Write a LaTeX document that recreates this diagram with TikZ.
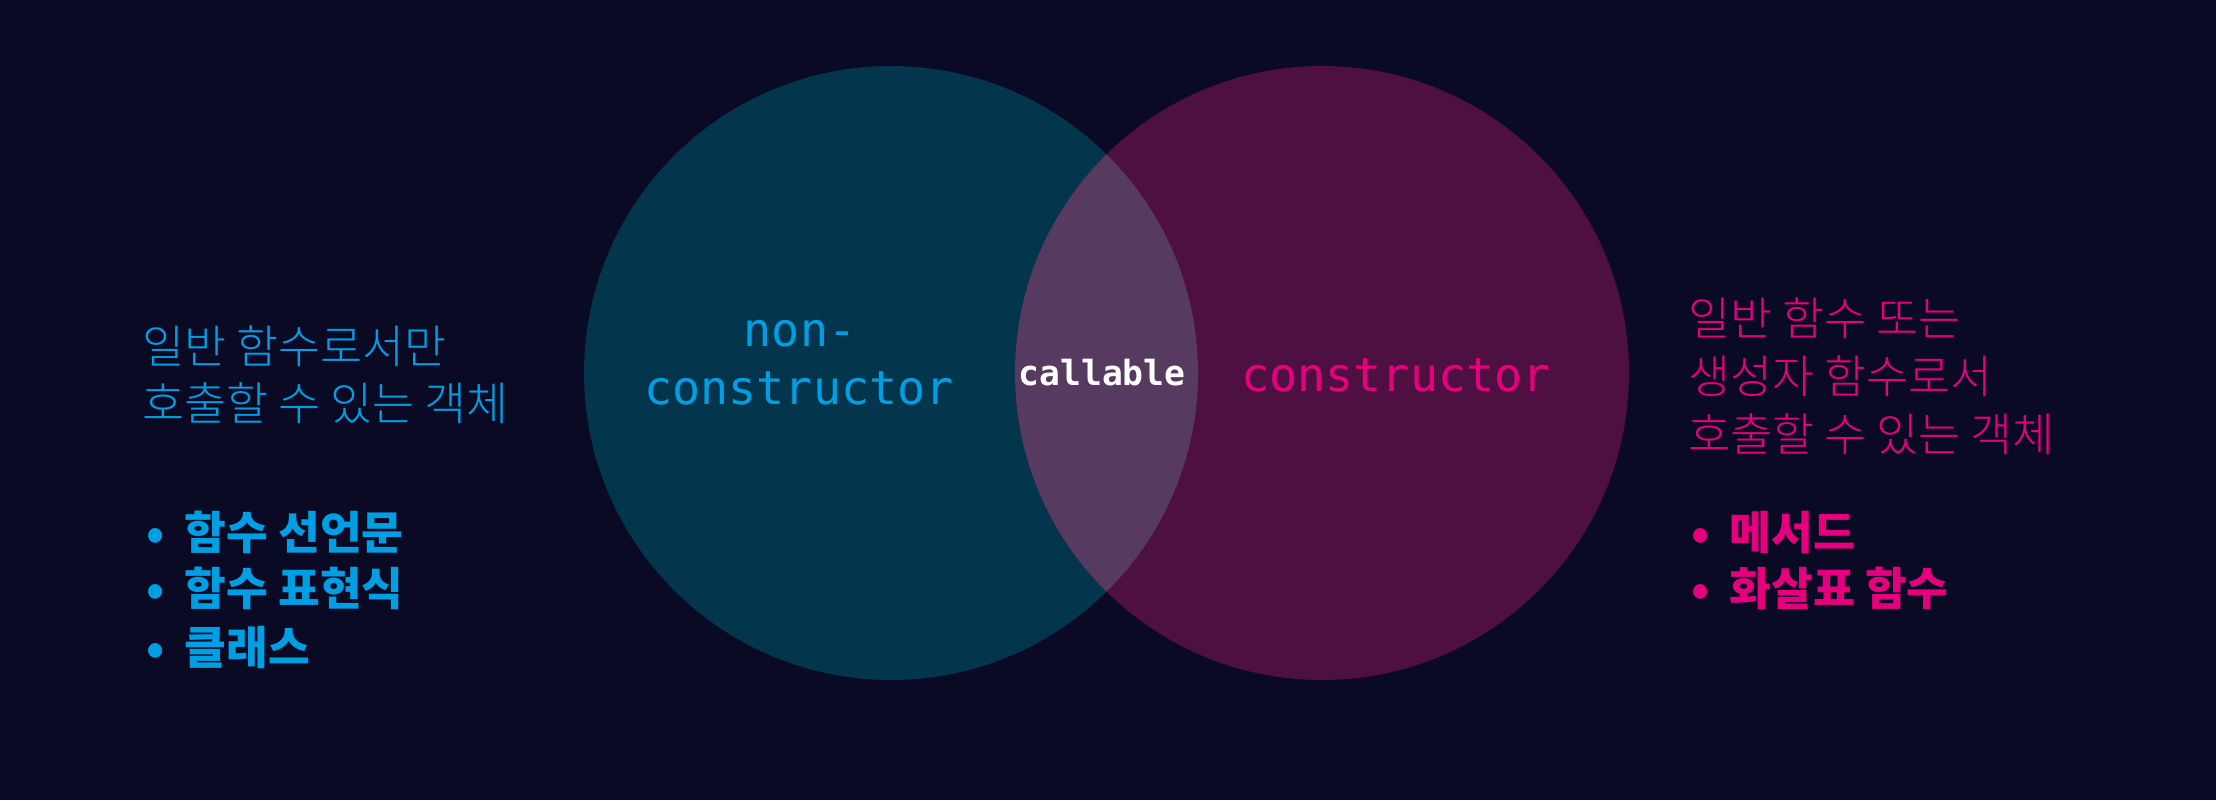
\documentclass[tikz,border=0pt]{standalone}
\usepackage{fontspec}
\newfontfamily\kr{Noto Sans CJK KR}
\newfontfamily\krl{Noto Sans CJK KR Light}
\newfontfamily\mono{DejaVu Sans Mono}
\definecolor{bg}{HTML}{0A0A25}
\definecolor{leftfill}{HTML}{03354D}
\definecolor{rightfill}{HTML}{4E1040}
\definecolor{interfill}{HTML}{573A60}
\definecolor{bluetext}{HTML}{009FE3}
\definecolor{pinktext}{HTML}{E6007E}
\tikzset{
  desc/.style={font=\krl\fontsize{34.2}{40}\selectfont, anchor=base west, inner sep=0pt},
  item/.style={font=\kr\bfseries\fontsize{34}{40}\selectfont, anchor=base west, inner sep=0pt},
  monotext/.style={font=\mono\fontsize{35}{42}\selectfont, anchor=base, inner sep=0pt},
  calltext/.style={font=\mono\bfseries\fontsize{26}{30}\selectfont, anchor=base, inner sep=0pt, text=white},
}
\newcommand{\bul}{\makebox[0pt][c]{•}\hspace{22pt}}
\begin{document}
\begin{tikzpicture}[x=0.75pt,y=-0.75pt]
\fill[bg] (0,0) rectangle (2216,800);
\useasboundingbox (0,0) rectangle (2216,800);
% circles
\fill[leftfill] (891,373) circle[radius=230.25pt];
\fill[rightfill] (1322,373) circle[radius=230.25pt];
\begin{scope}
  \clip (891,373) circle[radius=230.25pt];
  \fill[interfill] (1322,373) circle[radius=230.25pt];
\end{scope}
% circle labels
\node[monotext, text=bluetext] (nonA) at (800,346) {non-};
\node[monotext, text=bluetext] (nonB) at (799,404) {constructor};
\node[calltext] (call) at (1102,385) {callable};
\node[monotext, text=pinktext] (cons) at (1396,391) {constructor};
% left descriptions
\node[desc, text=bluetext] (l1) at (142,363) {일반 함수로서만};
\node[desc, text=bluetext] (l2) at (142,420) {호출할 수 있는 객체};
\node[item, text=bluetext] (lb1) at (155,549) {\bul 함수 선언문};
\node[item, text=bluetext] (lb2) at (155,605) {\bul 함수 표현식};
\node[item, text=bluetext] (lb3) at (155,664) {\bul 클래스};
% right descriptions
\node[desc, text=pinktext] (r1) at (1688,335) {일반 함수 또는};
\node[desc, text=pinktext] (r2) at (1688,393) {생성자 함수로서};
\node[desc, text=pinktext] (r3) at (1688,451) {호출할 수 있는 객체};
\node[item, text=pinktext] (rb1) at (1700,549) {\bul 메서드};
\node[item, text=pinktext] (rb2) at (1700,605) {\bul 화살표 함수};
\end{tikzpicture}
\end{document}
